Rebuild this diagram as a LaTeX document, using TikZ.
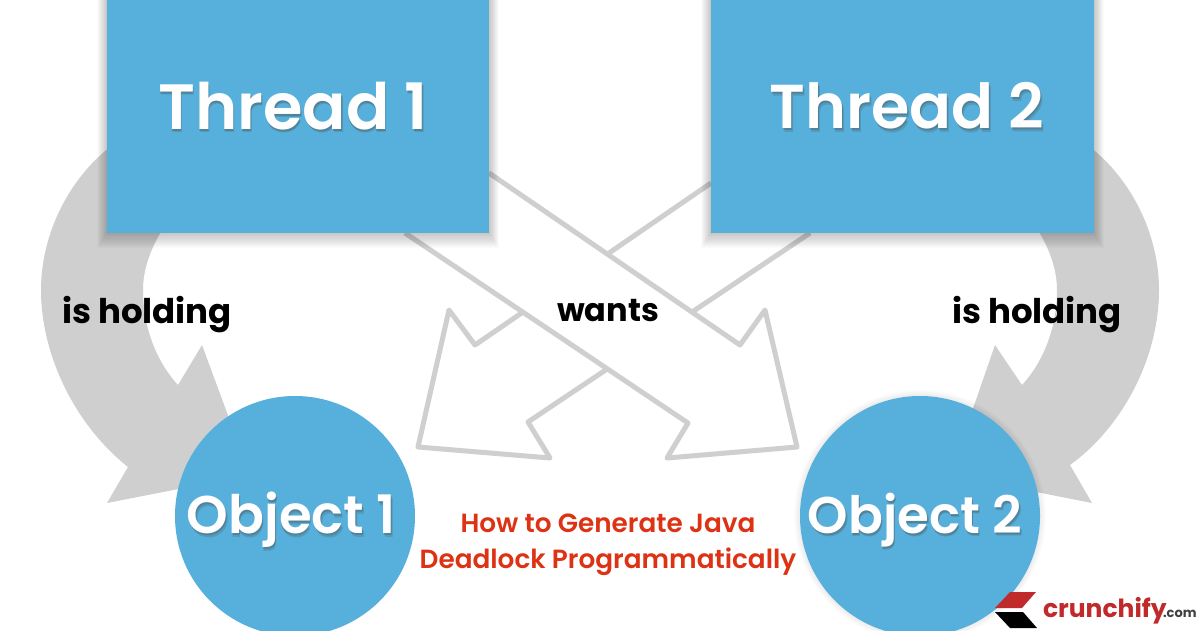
\documentclass[tikz,border=0pt]{standalone}
\usepackage{fontspec}
\setmainfont{Poppins}
\newfontfamily\midfont{Poppins SemiBold}
\definecolor{boxblue}{HTML}{56B0DB}
\definecolor{arrowgrey}{HTML}{CFCFCF}
\definecolor{titlered}{HTML}{DD3214}
\definecolor{logored}{HTML}{C02A2A}
\newcommand{\softtext}[3]{%
  \node[text=black!70, opacity=.22] at ([shift={(1.5,3.5)}]#1) {#3};
  \node[text=black!70, opacity=.30] at ([shift={(0.8,2)}]#1) {#3};
  \node[text=white] (#2) at (#1) {#3};}
\tikzset{
  x=1pt, y=-1pt,
  every node/.style={inner sep=0pt, outer sep=0pt},
  holdarrow/.style={fill=arrowgrey, draw=none},
  wantarrow/.style={draw=arrowgrey, fill=white, line width=5pt, line join=round},
  bigbox/.style={fill=boxblue, draw=none},
  bigdisc/.style={fill=boxblue, draw=none},
  boxlabel/.style={font=\midfont\fontsize{64}{64}\selectfont},
  boxlabelb/.style={font=\midfont\fontsize{62}{62}\selectfont},
  disclabel/.style={font=\midfont\fontsize{53}{53}\selectfont},
  disclabelb/.style={font=\midfont\fontsize{51.5}{52}\selectfont},
  caption/.style={text=black, font=\fontsize{34}{34}\selectfont\bfseries},
  captionb/.style={text=black, font=\fontsize{32}{32}\selectfont\bfseries},
  redtitle/.style={text=titlered, font=\midfont\fontsize{26.3}{27}\selectfont},
}
\begin{document}
\begin{tikzpicture}
\useasboundingbox (0,0) rectangle (1200,630);
\fill[white] (0,0) rectangle (1200,630);
% curved block arrows
\path[holdarrow] (110,147) .. controls (68,180) and (41,235) .. (41,290)
  .. controls (41,355) and (75,425) .. (128,467) -- (107,503) -- (250,475) -- (202,345) -- (178,385)
  .. controls (155,360) and (143,325) .. (143,290) .. controls (143,270) and (150,250) .. (162,230) -- cycle;
\path[holdarrow] (1090,147) .. controls (1132,180) and (1159,235) .. (1159,290)
  .. controls (1159,355) and (1125,425) .. (1070,465) -- (1092,503) -- (950,475) -- (995,345) -- (1022,385)
  .. controls (1045,360) and (1057,325) .. (1057,290) .. controls (1057,270) and (1050,250) .. (1038,230) -- cycle;
% outlined crossing arrows
\draw[wantarrow] (711,183) -- (475,345) -- (449,310) -- (418,447) -- (550,458) -- (528,422) -- (810,233);
\draw[wantarrow] (489,173) -- (740,345) -- (765,310) -- (797,447) -- (667,458) -- (688,423) -- (405,233);
% soft shadows of the boxes
\foreach \g in {1,...,14}{
  \fill[black, opacity=.014] (107-\g*.7,-10) rectangle (489+\g*.7,233+\g*1.1);
  \fill[black, opacity=.014] (711-\g*.7,-10) rectangle (1094+\g*.7,233+\g*1.1);
}
\node[bigbox, minimum width=382pt, minimum height=243pt, anchor=south west] (thread1) at (107,233) {};
\node[bigbox, minimum width=383pt, minimum height=243pt, anchor=south west] (thread2) at (711,233) {};
\node[bigdisc, circle, minimum size=240pt] (object1) at (295,516) {};
\foreach \g in {1,...,6}{\fill[black, opacity=.010] (920,516) circle (120+\g);}
\node[bigdisc, circle, minimum size=240pt] (object2) at (920,516) {};
% texts
\begin{scope}[every node/.append style={boxlabel}]
\softtext{293,106}{t1}{Thread 1}
\end{scope}
\begin{scope}[every node/.append style={boxlabelb}]
\softtext{907,106}{t2}{Thread 2}
\end{scope}
\begin{scope}[every node/.append style={disclabel}]
\softtext{291.5,520}{o1}{Object 1}
\end{scope}
\begin{scope}[every node/.append style={disclabelb}]
\softtext{915,520}{o2}{Object 2}
\end{scope}
\node[caption] (hold1) at (147,315) {is holding};
\node[captionb] (want) at (608,311) {wants};
\node[caption] (hold2) at (1037,315) {is holding};
\node[redtitle] (title1) at (608,523) {How to Generate Java};
\node[redtitle] (title2) at (608,562) {Deadlock Programmatically};
% logo
\fill[logored] (995,608) -- (1010,592) -- (1036,592) -- (1022,608) -- cycle;
\fill[black] (995,612) -- (1023,612) -- (1037,628) -- (1010,628) -- cycle;
\node[anchor=base west, text=logored, font=\fontsize{25}{25}\selectfont\bfseries] (brand) at (1043,617) {crunchify};
\node[anchor=base west, text=black!75, font=\fontsize{13}{13}\selectfont\bfseries] (dom) at (1163,617) {.com};
\end{tikzpicture}
\end{document}
